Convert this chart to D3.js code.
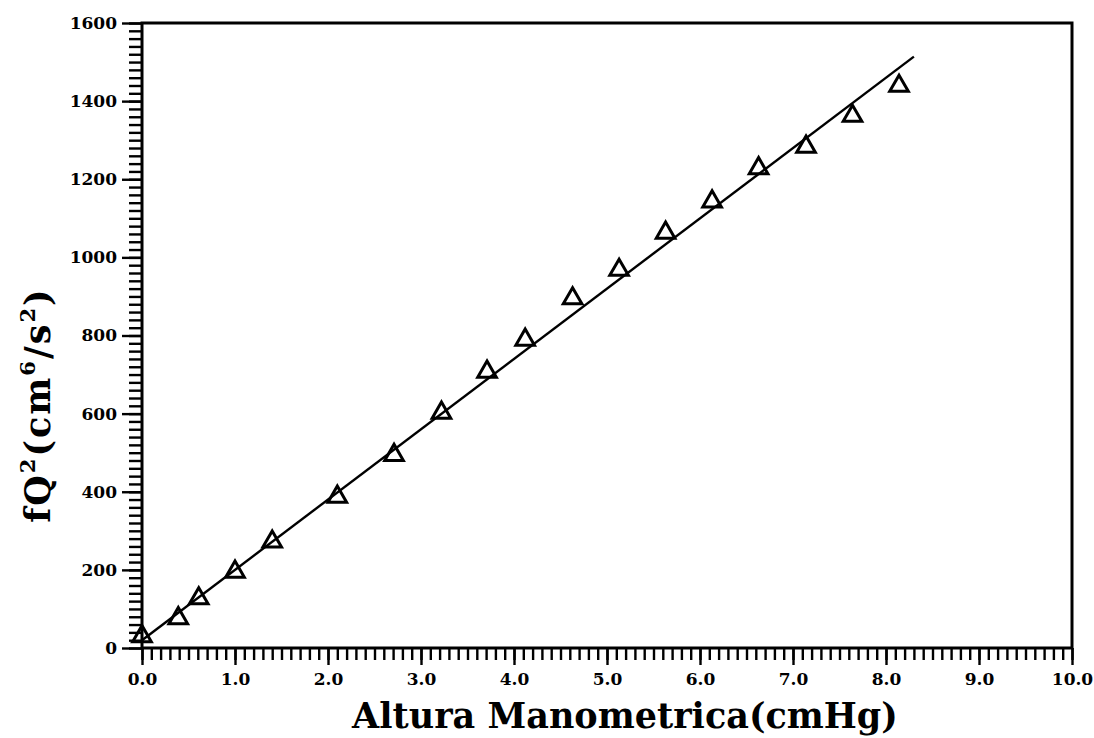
<!DOCTYPE html>
<html>
<head>
<meta charset="utf-8">
<script src="https://cdn.jsdelivr.net/npm/d3@7"></script>
<style>
    body { margin: 0; background: #fff; }
    #chart-area { width: 1094px; height: 738px; }
    .tick text { font-family: "DejaVu Serif", serif; font-weight: bold; fill: #000; }
    .axis-title { font-family: "DejaVu Serif", serif; font-weight: bold; fill: #000; }
</style>
</head>
<body>
<div id="chart-area"></div>
<script>

// measured points (altura manometrica, fQ^2)
const alturas = [0.0, 0.39, 0.61, 1.0, 1.40, 2.10, 2.71, 3.22, 3.71, 4.12, 4.63, 5.13, 5.63, 6.13, 6.63, 7.14, 7.64, 8.14];
const fq2 = [30, 76, 127, 195, 272, 387, 494, 602, 707, 789, 895, 968, 1063, 1143, 1228, 1283, 1362, 1439];

// fitted straight line, end points
const fitX = [0.0, 8.3];
const fitY = [20, 1514];

const xTickLabels = ["0.0", "1.0", "2.0", "3.0", "4.0", "5.0", "6.0", "7.0", "8.0", "9.0", "10.0"];
const yTickLabels = ["0", "200", "400", "600", "800", "1000", "1200", "1400", "1600"];


class ScatterFit {

    constructor(parentElement) {
        this.parentElement = parentElement;
        this.initVis();
    }

    initVis() {
        let vis = this;

        vis.margin = {top: 23, right: 22, bottom: 90, left: 142};
        vis.width = 1094 - vis.margin.left - vis.margin.right;
        vis.height = 738 - vis.margin.top - vis.margin.bottom;

        vis.svg = d3.select("#" + vis.parentElement).append("svg")
            .attr("width", 1094)
            .attr("height", 738)
            .append("g")
            .attr("transform", `translate (${vis.margin.left}, ${vis.margin.top})`);

        // scales
        vis.x = d3.scaleLinear()
            .domain([0, 10])
            .range([0, vis.width]);
        vis.y = d3.scaleLinear()
            .domain([0, 1600])
            .range([vis.height, 0]);

        vis.updateVis();
    }

    updateVis() {
        let vis = this;

        // minor ticks first, then labelled ticks on top
        vis.svg.append("g")
            .attr("class", "x-minor")
            .attr("transform", `translate(0, ${vis.height})`)
            .call(d3.axisBottom(vis.x).tickValues(d3.range(0, 101).map(d => d / 10)).tickSize(12).tickFormat(""));

        vis.svg.append("g")
            .attr("class", "x-axis")
            .attr("transform", `translate(0, ${vis.height})`)
            .call(d3.axisBottom(vis.x)
                .tickValues(xTickLabels.map(Number))
                .tickFormat((d, i) => xTickLabels[i])
                .tickSize(17)
                .tickPadding(8));

        vis.svg.append("g")
            .attr("class", "y-minor")
            .call(d3.axisLeft(vis.y).tickValues(d3.range(0, 1601, 20)).tickSize(13).tickFormat(""));

        vis.svg.append("g")
            .attr("class", "y-axis")
            .call(d3.axisLeft(vis.y)
                .tickValues(yTickLabels.map(Number))
                .tickFormat((d, i) => yTickLabels[i])
                .tickSize(20)
                .tickPadding(5));

        vis.svg.selectAll(".x-minor, .x-axis, .y-minor, .y-axis").selectAll("line")
            .attr("stroke", "#000")
            .attr("stroke-width", 2.4);
        vis.svg.selectAll(".x-minor .domain, .y-minor .domain, .x-axis .domain, .y-axis .domain").remove();

        vis.svg.selectAll(".x-axis .tick text").attr("font-size", 17);
        vis.svg.selectAll(".y-axis .tick text").attr("font-size", 17);

        // frame: plain lines on all four sides
        vis.svg.append("rect")
            .attr("x", 0)
            .attr("y", 0)
            .attr("width", vis.width)
            .attr("height", vis.height)
            .attr("fill", "none")
            .attr("stroke", "#000")
            .attr("stroke-width", 3);

        // fitted line
        let fit = fitX.map((d, i) => [d, fitY[i]]);
        vis.svg.append("path")
            .datum(fit)
            .attr("fill", "none")
            .attr("stroke", "#000")
            .attr("stroke-width", 2.4)
            .attr("d", d3.line().x(d => vis.x(d[0])).y(d => vis.y(d[1])));

        // triangle markers
        let tri = d3.symbol().type(d3.symbolTriangle).size(150);
        vis.svg.selectAll(".pt")
            .data(alturas)
            .enter()
            .append("path")
            .attr("class", "pt")
            .attr("d", tri)
            .attr("transform", (d, i) => `translate(${vis.x(d)}, ${vis.y(fq2[i])})`)
            .attr("fill", "none")
            .attr("stroke", "#000")
            .attr("stroke-width", 3);

        // axis titles
        vis.svg.append("text")
            .attr("class", "axis-title")
            .attr("x", vis.width / 2 + 18)
            .attr("y", vis.height + 80)
            .attr("text-anchor", "middle")
            .attr("font-size", 35)
            .text("Altura Manometrica(cmHg)");

        let yTitle = vis.svg.append("text")
            .attr("class", "axis-title")
            .attr("transform", `translate(${-92}, ${382}) rotate(-90)`)
            .attr("text-anchor", "middle")
            .attr("letter-spacing", 2)
            .attr("font-size", 35);
        yTitle.append("tspan").text("fQ");
        yTitle.append("tspan").attr("font-size", 21).attr("dy", -15).text("2");
        yTitle.append("tspan").attr("dy", 15).text("(cm");
        yTitle.append("tspan").attr("font-size", 21).attr("dy", -15).text("6");
        yTitle.append("tspan").attr("dy", 15).text("/s");
        yTitle.append("tspan").attr("font-size", 21).attr("dy", -15).text("2");
        yTitle.append("tspan").attr("dy", 15).text(")");
    }
}

new ScatterFit("chart-area");

</script>
</body>
</html>
